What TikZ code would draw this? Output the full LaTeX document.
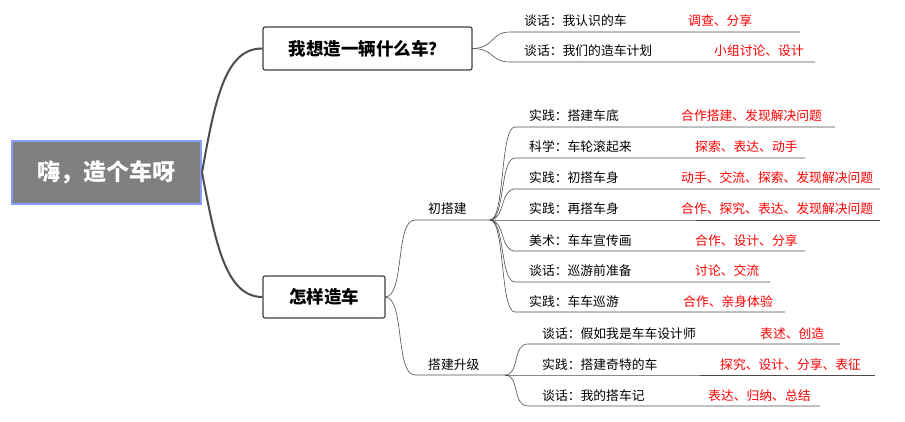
\documentclass[tikz,border=0pt]{standalone}
\usepackage{fontspec}
\newfontfamily\cjk{Noto Sans CJK SC}
\begin{document}
\begin{tikzpicture}[x=1pt,y=-1pt,
 main/.style={draw=black!75,line width=1.2pt,rounded corners=2pt,fill=white,font=\cjk\bfseries\fontsize{17.5}{19}\selectfont,inner sep=0pt},
 thick link/.style={draw=black!70,line width=2pt},
 thin/.style={draw=black!70,line width=0.6pt},
 item/.style={anchor=base west,font=\cjk\fontsize{12.8}{14}\selectfont,inner sep=0pt},
 red item/.style={item,text=red}]
\useasboundingbox (0,0) rectangle (905,422);
\node[draw={rgb,255:red,140;green,155;blue,255},line width=2pt,fill=black!50,text=white,font=\cjk\bfseries\fontsize{23}{25}\selectfont,minimum width=189pt,minimum height=63pt] (root) at (106.5,172.5) {嗨，造个车呀};
\node[main,minimum width=209pt,minimum height=43pt] (n1) at (367.5,48.5) {我想造一辆什么车？};
\node[main,minimum width=122pt,minimum height=42pt] (n2) at (324,297) {怎样造车};
\draw[thick link] (root.east) .. controls (215,100) and (225,48) .. (n1.west);
\draw[thick link] (root.east) .. controls (215,240) and (225,297) .. (n2.west);
% n1 branches
\coordinate (j1) at (472,48.5);
\foreach \y/\e/\t/\r/\rx in {32/800/谈话：我认识的车/调查、分享/688, 62/815/谈话：我们的造车计划/小组讨论、设计/714}{
 \draw[thin] (j1) .. controls (495,48.5) and (490,\y) .. (510,\y) -- (\e,\y);
 \node[item] at (524,\y-6) {\t};
 \node[red item] at (\rx,\y-6) {\r};}
% n2 branches
\coordinate (j2) at (385,297);
\coordinate (a) at (490,220);
\coordinate (b) at (505,375);
\draw[thin] (j2) .. controls (405,297) and (395,220) .. (415,220) -- (a);
\draw[thin] (j2) .. controls (405,297) and (395,375) .. (415,375) -- (b);
\node[item] (l1) at (428,214) {初搭建};
\node[item] (l2) at (428,369) {搭建升级};
\foreach \y/\e/\t/\r/\rx in {127/835/实践：搭建车底/合作搭建、发现解决问题/681, 158/805/科学：车轮滚起来/探索、表达、动手/695, 189/880/实践：初搭车身/动手、交流、探索、发现解决问题/681, 220/880/实践：再搭车身/合作、探究、表达、发现解决问题/681, 251/805/美术：车车宣传画/合作、设计、分享/695, 282/770/谈话：巡游前准备/讨论、交流/695, 312/785/实践：车车巡游/合作、亲身体验/683}{
 \draw[thin] (a) .. controls (505,220) and (500,\y) .. (515,\y) -- (\e,\y);
 \node[item] at (529,\y-6) {\t};
 \node[red item] at (\rx,\y-6) {\r};}
\foreach \y/\e/\t/\r/\rx in {344/840/谈话：假如我是车车设计师/表述、创造/760, 375/875/实践：搭建奇特的车/探究、设计、分享、表征/720, 406/820/谈话：我的搭车记/表达、归纳、总结/708}{
 \draw[thin] (b) .. controls (520,375) and (512,\y) .. (528,\y) -- (\e,\y);
 \node[item] at (542,\y-6) {\t};
 \node[red item] at (\rx,\y-6) {\r};}
\end{tikzpicture}
\end{document}
